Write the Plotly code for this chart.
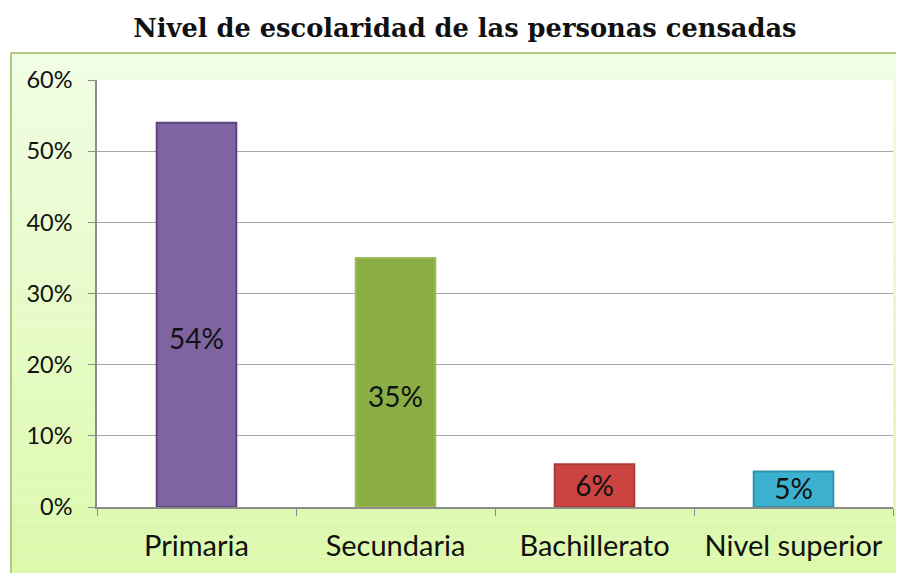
import plotly.graph_objects as go

niveles = ["Primaria", "Secundaria", "Bachillerato", "Nivel superior"]
porcentajes = [54, 35, 6, 5]
etiquetas = ["54%", "35%", "6%", "5%"]
colores = ["#8064a2", "#8aae45", "#cc4441", "#3cb1cf"]
bordes = ["#5c4580", "#9bbb59", "#a83a37", "#2f93ad"]

fig = go.Figure()
fig.add_trace(go.Bar(
    x=niveles, y=porcentajes,
    marker=dict(color=colores, line=dict(color=bordes, width=2)),
    hoverinfo="skip",
))
# etiquetas de valor, algo por debajo del centro de cada barra (como en Excel)
fig.add_trace(go.Scatter(
    x=niveles, y=[v * 0.43 for v in porcentajes], text=etiquetas,
    mode="text", textposition="middle center",
    textfont=dict(family="Lato", size=28, color="#111"),
    hoverinfo="skip",
))

# fondo del recuadro con degradado (franjas)
top = (241, 253, 228)
bot = (219, 249, 170)
n = 30
y0, y1 = -0.2, 1.063
for i in range(n):
    t = i / (n - 1)
    c = tuple(round(top[k] + (bot[k] - top[k]) * t) for k in range(3))
    fig.add_shape(type="rect", xref="paper", yref="paper", layer="below",
                  x0=-0.108, x1=1.03,
                  y1=y1 - (y1 - y0) * i / n, y0=y1 - (y1 - y0) * (i + 1) / n,
                  line_width=0, fillcolor="rgb(%d,%d,%d)" % c)
fig.add_shape(type="rect", xref="paper", yref="paper", layer="below",
              x0=-0.108, x1=1.03, y0=y0, y1=y1,
              line=dict(color="#9bbb59", width=1.5), fillcolor="rgba(0,0,0,0)")
fig.add_shape(type="rect", xref="x domain", yref="y domain", layer="below",
              x0=0, x1=1, y0=0, y1=1, line_width=0, fillcolor="white")

# la pagina tiene 8px de margen, por eso 896x565
fig.update_layout(
    width=896, height=565,
    margin=dict(l=89, r=11, t=72, b=66),
    paper_bgcolor="white", plot_bgcolor="white",
    title=dict(text="<b>Nivel de escolaridad de las personas censadas</b>",
               x=0.510, xanchor="center", y=0.965, yanchor="middle",
               font=dict(family="DejaVu Serif", size=25.7, color="#111")),
    bargap=0.6, showlegend=False,
)
fig.update_xaxes(showline=True, linecolor="#8c8c8c", linewidth=1.5,
                 ticks="outside", tickson="boundaries", ticklen=7, tickcolor="#8c8c8c",
                 ticklabelstandoff=12,
                 tickfont=dict(family="Lato", size=29, color="#111"))
fig.update_yaxes(range=[0, 60], dtick=10, ticksuffix="%",
                 showgrid=True, gridcolor="#a6a6a6", gridwidth=1,
                 showline=True, linecolor="#8c8c8c", linewidth=1.5,
                 ticks="outside", ticklen=7, tickcolor="#8c8c8c",
                 ticklabelstandoff=11,
                 tickfont=dict(family="Lato", size=23.5, color="#111"),
                 zeroline=False)

fig.write_html("out.html")
